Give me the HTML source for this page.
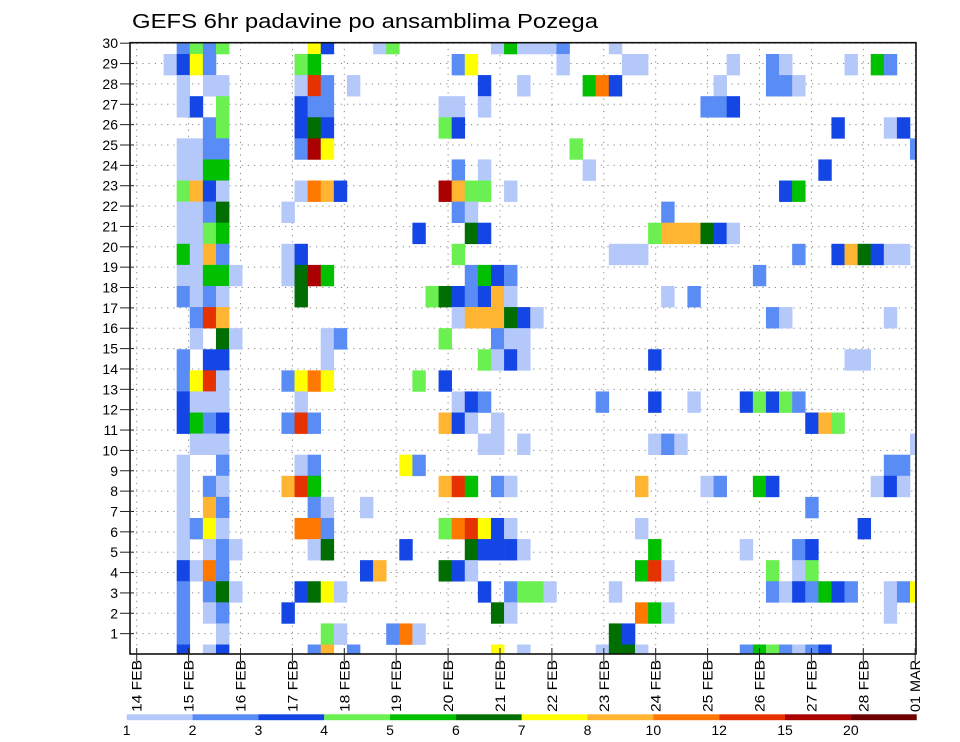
<!DOCTYPE html>
<html><head><meta charset="utf-8"><style>
html,body{margin:0;padding:0;background:#fff}
svg{display:block;font-family:"Liberation Sans",sans-serif}
</style></head><body>
<svg id="chart" width="960" height="742" viewBox="0 0 960 742" xmlns="http://www.w3.org/2000/svg">
<defs><clipPath id="plotclip"><rect x="130" y="42.7" width="786" height="611.3"/></clipPath></defs>
<text x="132" y="28" font-size="20" textLength="466" lengthAdjust="spacingAndGlyphs">GEFS 6hr padavine po ansamblima Pozega</text>
<g id="grid"></g>
<g id="cells" clip-path="url(#plotclip)"></g>
<rect x="130" y="42.7" width="786" height="611.3" fill="none" stroke="#111" stroke-width="1.6"/>
<g id="yaxis"></g>
<g id="xaxis"></g>
<g id="colorbar"></g>
</svg>
<script>
// Level codes -> rainfall class thresholds (mm)
const levelCodes = ["a","b","c","d","e","f","g","h","i","j","k","l"];
const levelValues = [1,2,3,4,5,6,7,8,10,12,15,20];
const levelColors = ["#b4c8fa","#5a8cf5","#1446e6","#6af050","#00c000","#006e00","#ffff00","#ffb432","#ff7800","#e63200","#aa0000","#6e0000"];
// Members listed top (30) to bottom; entries "column+levelcode", column = 6-hourly step from 14 FEB 00Z
const member30 = "3b 4d 5b 6d 13g 14c 18a 19d 27a 28e 29a 30a 31a 32b 36a";
const member29 = "2a 3c 4g 5b 12d 13e 24b 25g 32a 37a 38a 45a 48b 49a 54a 56e 57b";
const member28 = "3a 5a 6a 12a 13j 14b 16a 26c 29a 34e 35i 36c 44a 48b 49b 50a";
const member27 = "3a 4c 6d 12c 13b 14b 23a 24a 26a 43b 44b 45c";
const member26 = "5b 6d 12c 13f 14c 23d 24c 53c 57a 58c";
const member25 = "3a 4a 5b 6b 12b 13k 14g 33d 59b";
const member24 = "3a 4a 5e 6e 24b 26a 34a 52c";
const member23 = "3d 4h 5c 6a 12a 13i 14h 15c 23k 24h 25d 26d 28a 49c 50e";
const member22 = "3a 4a 5b 6f 11a 24b 25a 40b";
const member21 = "3a 4a 5d 6e 21c 25f 26c 39d 40h 41h 42h 43f 44c 45a";
const member20 = "3e 4a 5h 6b 11a 12c 24d 36a 37a 38a 50b 53c 54h 55f 56c 57a 58a";
const member19 = "3a 4a 5e 6e 7a 11a 12f 13k 14e 25b 26e 27c 28b 47b";
const member18 = "3b 4a 5b 6a 12f 22d 23f 24c 25b 26c 27h 28a 40a 42b";
const member17 = "4b 5j 6h 24a 25h 26h 27h 28f 29c 30a 48b 49a 57a";
const member16 = "4a 6f 7a 14a 15b 23d 27b 28a 29a";
const member15 = "3b 5c 6c 14a 26d 27a 28c 29a 39c 54a 55a";
const member14 = "3b 4g 5j 6a 11b 12g 13i 14g 21d 23c";
const member13 = "3c 4a 5a 6a 12a 24a 25c 26b 35b 39c 42a 46c 47d 48c 49d 50b";
const member12 = "3c 4e 5b 6c 11b 12j 13b 23h 24c 25a 27a 51c 52h 53d";
const member11 = "4a 5a 6a 26a 27a 29a 39a 40b 41a 59a";
const member10 = "3a 6b 12a 13b 20g 21b 57b 58b";
const member9 = "3a 5b 6a 11h 12j 13e 23h 24j 25e 27b 28a 38h 43a 44b 47e 48c 56a 57c 58a";
const member8 = "3a 5h 6b 13b 14a 17a 51b";
const member7 = "3a 4b 5g 6a 12i 13i 14b 23d 24i 25j 26g 27c 28a 38a 55c";
const member6 = "3a 5a 6b 7a 13a 14f 20c 25f 26c 27c 28c 29a 39e 46a 50b 51c";
const member5 = "3c 4a 5i 6b 17c 18h 23f 24c 25a 38e 39j 40a 48d 50a 51d";
const member4 = "3b 5b 6f 7a 12c 13f 14g 15a 26c 28b 29d 30d 31a 36a 48b 49a 50c 51b 52e 53c 54b 57a 58b 59g";
const member3 = "3b 5a 6b 11c 27f 28a 38i 39e 40a 57a";
const member2 = "3b 6a 14d 15a 19b 20i 21a 36f 37c";
const member1 = "3c 5a 6c 13b 14h 16b 27g 29a 35a 36f 37f 38a 46b 47e 48d 49b 50a 51b 52c";
const memberRows = [member30,member29,member28,member27,member26,member25,member24,member23,member22,member21,member20,member19,member18,member17,member16,member15,member14,member13,member12,member11,member10,member9,member8,member7,member6,member5,member4,member3,member2,member1];
const dayLabels = ["14 FEB","15 FEB","16 FEB","17 FEB","18 FEB","19 FEB","20 FEB","21 FEB","22 FEB","23 FEB","24 FEB","25 FEB","26 FEB","27 FEB","28 FEB","01 MAR"];
const yTicks = [1,2,3,4,5,6,7,8,9,10,11,12,13,14,15,16,17,18,19,20,21,22,23,24,25,26,27,28,29,30];

const NS = "http://www.w3.org/2000/svg";
function mk(tag, attrs, parent){const e=document.createElementNS(NS,tag);for(const k in attrs)e.setAttribute(k,attrs[k]);parent.appendChild(e);return e;}
// axis functions
const cellX = c => 137.4 + 13.095*c;
const cellW = 13.095;
const cellY = i => 32.9 + 21.09*i;
const cellH = 21.09;
const tickY = v => 654 - 20.36*v;
const dayX = d => 136.7 + 51.9*d;
const cbX = k => 126.7 + 65.83*k;

const grid = document.getElementById('grid');
yTicks.forEach(v=>{
  const l = mk('line',{x1:130,x2:916,y1:tickY(v),y2:tickY(v),stroke:'#888','stroke-width':1,'stroke-dasharray':'1.2,5'},grid);
  
  
});
dayLabels.forEach((d,k)=>{
  const l = mk('line',{x1:dayX(k),x2:dayX(k),y1:42.7,y2:654,stroke:'#888','stroke-width':1,'stroke-dasharray':'1.2,5'},grid);
  
  
});

const cells = document.getElementById('cells');
memberRows.forEach((row,i)=>{
  row.split(' ').filter(s=>s).forEach(tok=>{
    const c = parseInt(tok,10);
    const code = tok.replace(/[0-9]/g,'');
    const li = levelCodes.indexOf(code);
    const r = mk('rect',{x:cellX(c),y:cellY(i),width:cellW+0.3,height:cellH+0.3,fill:levelColors[li]},cells);
    
    
    r.setAttribute('data-value',levelValues[li]);
  });
});

const yaxis = document.getElementById('yaxis');
yTicks.forEach(v=>{
  const t = mk('text',{x:118,y:tickY(v)+5,'font-size':14,'text-anchor':'end'},yaxis);
  t.textContent = v;
  
  
  mk('line',{x1:120,x2:134,y1:tickY(v),y2:tickY(v),stroke:'#222','stroke-width':1},yaxis);
});

const xaxis = document.getElementById('xaxis');
dayLabels.forEach((d,k)=>{
  const x = dayX(k);
  mk('line',{x1:x,x2:x,y1:648,y2:662,stroke:'#222','stroke-width':1},xaxis);
  const t = mk('text',{x:0,y:0,'font-size':14,transform:`translate(${x+5},712) rotate(-90)`,textLength:52,lengthAdjust:'spacingAndGlyphs'},xaxis);
  t.textContent = d;
  
  
});

const cb = document.getElementById('colorbar');
levelColors.forEach((col,k)=>{
  const r = mk('rect',{x:cbX(k),y:714.3,width:65.9,height:5.9,fill:col},cb);
  
  
  const t = mk('text',{x:cbX(k),y:735,'font-size':14,'text-anchor':'middle'},cb);
  t.textContent = levelValues[k];
  
  
});
</script>
</body></html>
